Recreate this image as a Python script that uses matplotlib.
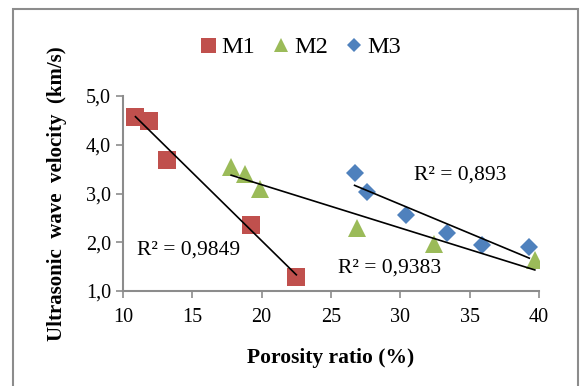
import numpy as np
import matplotlib
matplotlib.use('Agg')
import matplotlib.pyplot as plt
from matplotlib.patches import Rectangle

# porosity (%) / ultrasonic velocity (km/s)
m1_x = [10.9, 11.9, 13.2, 19.2, 22.5]
m1_y = [4.57, 4.49, 3.68, 2.36, 1.29]
m2_x = [17.8, 18.8, 19.9, 26.9, 32.4, 39.7]
m2_y = [3.55, 3.40, 3.10, 2.29, 1.96, 1.63]
m3_x = [26.7, 27.6, 30.4, 33.4, 35.9, 39.3]
m3_y = [3.43, 3.03, 2.56, 2.20, 1.95, 1.91]
r2_labels = ["R² = 0,9849", "R² = 0,9383", "R² = 0,893"]

plt.rcParams['font.family'] = ['Liberation Serif', 'DejaVu Serif']

fig = plt.figure(figsize=(5.8, 3.86), dpi=100)
fig.patches.append(Rectangle((12.7 / 580, -0.05), (578 - 12.7) / 580, 1.05 - 9 / 386,
                             transform=fig.transFigure, fill=False,
                             edgecolor='#8c8c8c', linewidth=1.5))
ax = fig.add_axes([123 / 580, 1 - 291 / 386, (539 - 123) / 580, (291 - 96) / 386])

series = [(m1_x, m1_y, 's', 13.5, '#C0504D', 'M1'),
          (m2_x, m2_y, '^', 12.5, '#9BBB59', 'M2'),
          (m3_x, m3_y, 'D', 9.0, '#4F81BD', 'M3')]
for x, y, mk, ms, col, lab in series:
    ax.plot(x, y, linestyle='none', marker=mk, markersize=ms, color=col,
            markeredgewidth=0, label=lab, zorder=3)

# linear trendlines
for x, y, *_ in series:
    k, b = np.polyfit(x, y, 1)
    xs = np.array([min(x), max(x)])
    ax.plot(xs, k * xs + b, color='black', linewidth=1.2, zorder=4)

ax.text(11.0, 1.85, r2_labels[0], fontsize=15.5, va='center')
ax.text(25.5, 1.47, r2_labels[1], fontsize=15.5, va='center')
ax.text(31.0, 3.37, r2_labels[2], fontsize=15.5, va='center')

ax.set_xlim(10, 40)
ax.set_ylim(1, 5)
ax.set_xticks(range(10, 41, 5))
ax.set_yticks([1, 2, 3, 4, 5])
ax.set_yticklabels(['1,0', '2,0', '3,0', '4,0', '5,0'])
ax.tick_params(labelsize=14.5, colors='#8c8c8c', length=5, width=1.2, labelcolor='black')
ax.tick_params(axis='x', pad=7)
for s in ['top', 'right']:
    ax.spines[s].set_visible(False)
for s in ['left', 'bottom']:
    ax.spines[s].set_color('#8c8c8c')
    ax.spines[s].set_linewidth(1.5)

ax.set_xlabel('Porosity ratio (%)', fontsize=15.5, fontweight='bold', labelpad=15)
ax.set_ylabel('Ultrasonic  wave  velocity  (km/s)', fontsize=15, fontweight='bold', labelpad=14)

ax.legend(loc='center', bbox_to_anchor=(0.42, 1.25), ncol=3, frameon=False,
          fontsize=17.5, handletextpad=0.0, columnspacing=0.5, handlelength=1.1,
          markerscale=0.8)

fig.savefig('out.png', dpi=100)
